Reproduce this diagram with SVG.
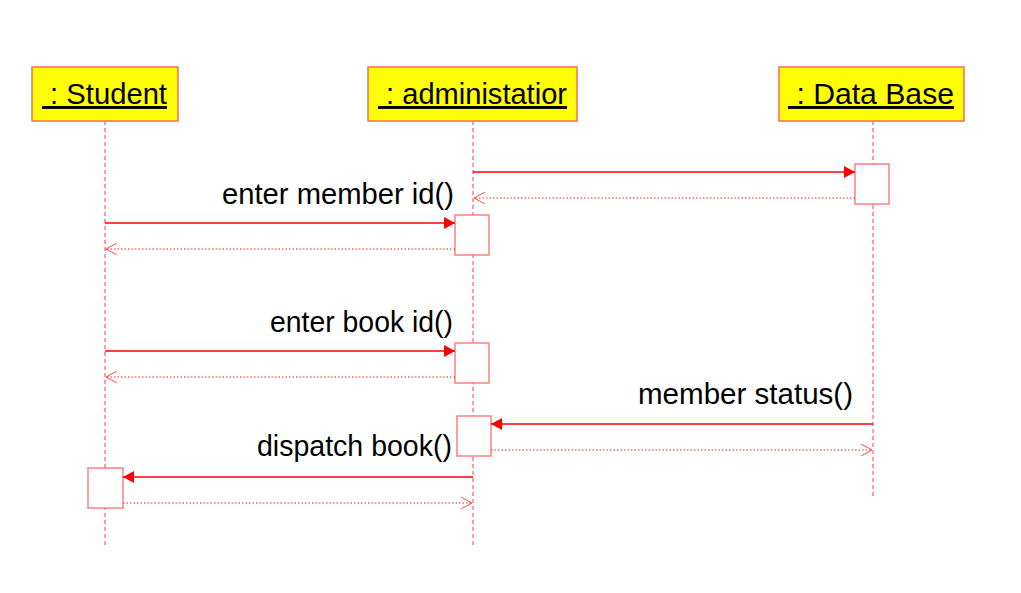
<svg xmlns="http://www.w3.org/2000/svg" width="1021" height="593" viewBox="0 0 1021 593">
<style>
.obj{fill:#FFFF00;stroke:#FF6A5A;stroke-width:1.5}
.otext{font-family:"Liberation Sans",Arial,sans-serif;font-size:29.5px;fill:#000;text-decoration:underline}
.life{stroke:#FF7F7F;stroke-width:1.5;stroke-dasharray:4,3;fill:none}
.act{fill:#FFFFFF;stroke:#FF7F7F;stroke-width:1.5}
.msg{stroke:#FF0000;stroke-width:1.3;fill:none}
.ret{stroke:#FF2020;stroke-width:1;stroke-dasharray:1.5,2;fill:none}
.mtext{font-family:"Liberation Sans",Arial,sans-serif;font-size:29px;fill:#000;text-anchor:end}
</style>
<defs>
<marker id="solid" markerWidth="13" markerHeight="13" refX="11" refY="6.5" orient="auto" markerUnits="userSpaceOnUse">
<path d="M0,0.5 L11,6.5 L0,12.5 Z" fill="#FF0000"/>
</marker>
<marker id="open" markerWidth="12" markerHeight="12" refX="11" refY="6" orient="auto" markerUnits="userSpaceOnUse">
<path d="M0,0 L11,6 L0,12" fill="none" stroke="#FF2020" stroke-width="0.8"/>
</marker>
</defs>
<rect width="1021" height="593" fill="#FFFFFF"/>
<g id="student">
<line class="life" x1="105" y1="121" x2="105" y2="546"/>
<rect class="obj" x="32" y="67" width="146" height="54"/>
<text class="otext" x="42" y="104" xml:space="preserve" textLength="125" lengthAdjust="spacingAndGlyphs"> : Student</text>
</g>
<g id="administatior">
<line class="life" x1="473" y1="121" x2="473" y2="546"/>
<rect class="obj" x="368" y="67" width="209" height="54"/>
<text class="otext" x="378" y="104" xml:space="preserve" textLength="189" lengthAdjust="spacingAndGlyphs"> : administatior</text>
</g>
<g id="database">
<line class="life" x1="873" y1="121" x2="873" y2="496"/>
<rect class="obj" x="779" y="67" width="185" height="54"/>
<text class="otext" x="788" y="104" xml:space="preserve" textLength="166" lengthAdjust="spacingAndGlyphs"> : Data Base</text>
</g>
<g id="activations">
<rect class="act" x="855" y="164" width="34" height="40"/>
<rect class="act" x="455" y="215" width="34" height="40"/>
<rect class="act" x="455" y="343" width="34" height="40"/>
<rect class="act" x="457" y="416" width="34" height="40"/>
<rect class="act" x="88" y="468" width="35" height="40"/>
</g>
<g id="connectors">
<line class="msg" x1="473" y1="172" x2="855" y2="172" marker-end="url(#solid)"/>
<line class="ret" x1="855" y1="198" x2="474" y2="198" marker-end="url(#open)"/>
<line class="msg" x1="105" y1="223" x2="455" y2="223" marker-end="url(#solid)"/>
<line class="ret" x1="455" y1="249" x2="106" y2="249" marker-end="url(#open)"/>
<line class="msg" x1="105" y1="351" x2="455" y2="351" marker-end="url(#solid)"/>
<line class="ret" x1="455" y1="377" x2="106" y2="377" marker-end="url(#open)"/>
<line class="msg" x1="873" y1="424" x2="491" y2="424" marker-end="url(#solid)"/>
<line class="ret" x1="491" y1="450" x2="872" y2="450" marker-end="url(#open)"/>
<line class="msg" x1="473" y1="477" x2="123" y2="477" marker-end="url(#solid)"/>
<line class="ret" x1="123" y1="503" x2="472" y2="503" marker-end="url(#open)"/>
</g>
<g id="labels">
<text class="mtext" x="454" y="204" textLength="232" lengthAdjust="spacingAndGlyphs">enter member id()</text>
<text class="mtext" x="453" y="332" textLength="183" lengthAdjust="spacingAndGlyphs">enter book id()</text>
<text class="mtext" x="853" y="404" textLength="215" lengthAdjust="spacingAndGlyphs">member status()</text>
<text class="mtext" x="452" y="456" textLength="195" lengthAdjust="spacingAndGlyphs">dispatch book()</text>
</g>
</svg>
